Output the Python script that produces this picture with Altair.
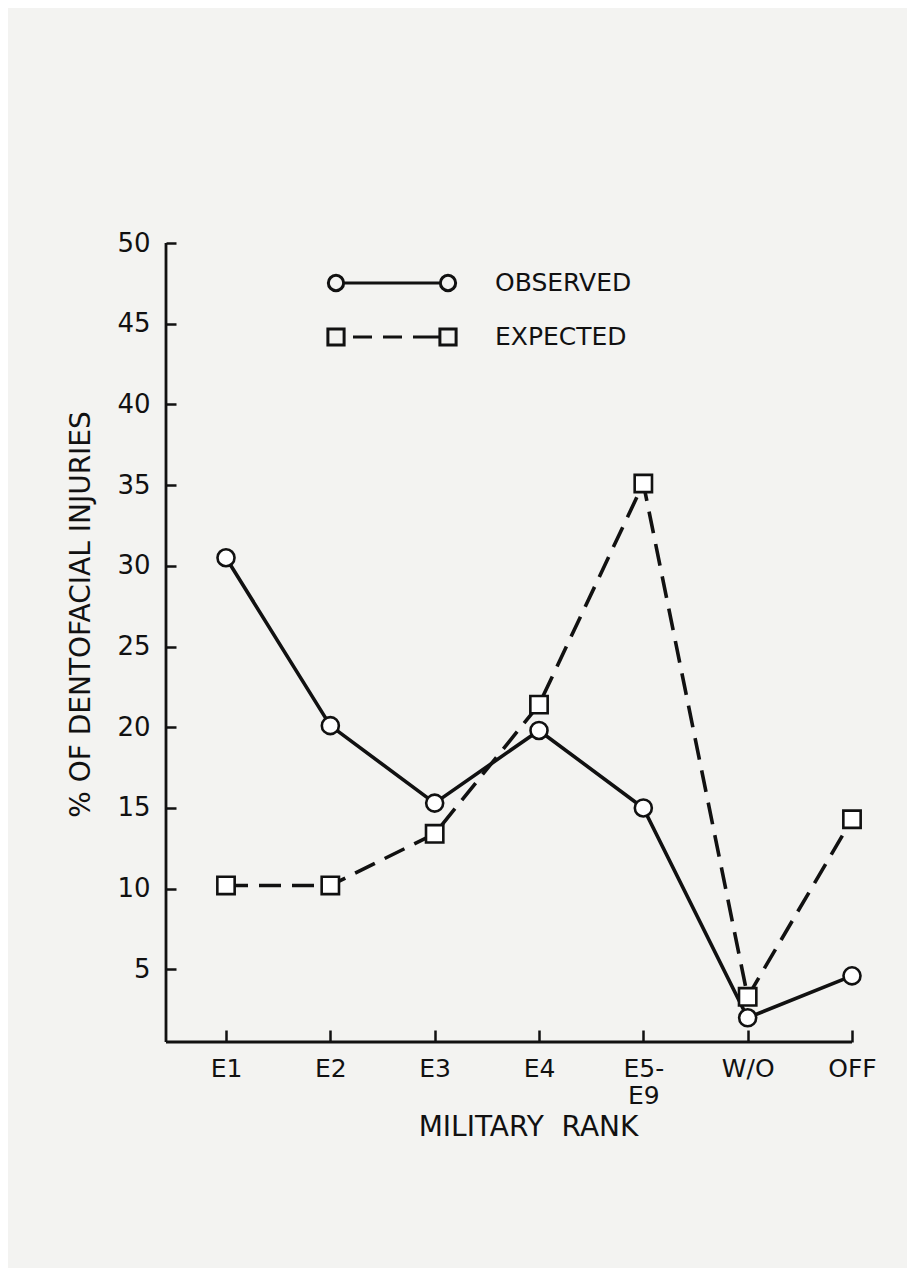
import altair as alt
import pandas as pd

# ---- data ----
ranks = ["E1", "E2", "E3", "E4", "E5-E9", "W/O", "OFF"]
observed = [30.5, 20.1, 15.3, 19.8, 15.0, 2.0, 4.6]
expected = [10.2, 10.2, 13.4, 21.4, 35.1, 3.3, 14.3]
series_names = ["OBSERVED", "EXPECTED"]
y_ticks = [5, 10, 15, 20, 25, 30, 35, 40, 45, 50]

rows = []
for r, o, e in zip(ranks, observed, expected):
    rows.append({"rank": r, "series": "OBSERVED", "pct": o})
    rows.append({"rank": r, "series": "EXPECTED", "pct": e})
df = pd.DataFrame(rows)

W, H = 686, 799
FONT = "DejaVu Sans"
INK = "#111111"
PAPER = "#f3f3f1"


# ---- legend symbols as custom paths (units of 9 px) ----
def circle_path(cx, r):
    k = 0.5523 * r
    return (f"M{cx + r:.3f},0 C{cx + r:.3f},{k:.3f} {cx + k:.3f},{r:.3f} {cx:.3f},{r:.3f} "
            f"C{cx - k:.3f},{r:.3f} {cx - r:.3f},{k:.3f} {cx - r:.3f},0 "
            f"C{cx - r:.3f},{-k:.3f} {cx - k:.3f},{-r:.3f} {cx:.3f},{-r:.3f} "
            f"C{cx + k:.3f},{-r:.3f} {cx + r:.3f},{-k:.3f} {cx + r:.3f},0 Z")


def square_path(cx, h):
    return (f"M{cx - h:.3f},{-h:.3f} L{cx + h:.3f},{-h:.3f} "
            f"L{cx + h:.3f},{h:.3f} L{cx - h:.3f},{h:.3f} Z")


c = 56 / 9.0
r = 0.85
obs_path = (circle_path(-c, r) + " " + circle_path(c, r) +
            f" M{-c + r:.3f},0 L{c - r:.3f},0")
hs = 0.9
dashes = [(-39, -20), (-9, 10), (21, 47)]
exp_path = square_path(-c, hs) + " " + square_path(c, hs)
for a, b in dashes:
    exp_path += f" M{a / 9.0:.3f},0 L{b / 9.0:.3f},0"

x_enc = alt.X(
    "rank:N",
    sort=ranks,
    scale=alt.Scale(type="point", range=[60, W], padding=0),
    axis=alt.Axis(
        title="MILITARY\u00a0\u00a0RANK",
        titleFont=FONT, titleFontSize=28, titleFontWeight="normal",
        titleColor=INK, titleX=362, titleY=83,
        labelFont=FONT, labelFontSize=25, labelColor=INK,
        labelAngle=0, labelPadding=14, labelLineHeight=27,
        labelExpr="datum.label == 'E5-E9' ? ['E5-', 'E9'] : datum.label",
        domain=False, grid=False, offset=-12, tickSize=12,
        tickColor=INK, tickWidth=2.5,
    ),
)
y_enc = alt.Y(
    "pct:Q",
    scale=alt.Scale(domain=[0.5, 50], nice=False, zero=False),
    axis=alt.Axis(
        title="% OF DENTOFACIAL INJURIES",
        titleFont=FONT, titleFontSize=28, titleFontWeight="normal",
        titleColor=INK, titleX=-81, titleY=371,
        values=y_ticks,
        labelFont=FONT, labelFontSize=26, labelColor=INK, labelPadding=16,
        domain=False, grid=False, offset=-10, tickSize=10,
        tickColor=INK, tickWidth=2.5,
    ),
)

base = alt.Chart(df)

obs_line = base.transform_filter(alt.datum.series == "OBSERVED").mark_line(
    color=INK, strokeWidth=3.6
).encode(x=x_enc, y=y_enc)

exp_line = base.transform_filter(alt.datum.series == "EXPECTED").mark_line(
    color=INK, strokeWidth=3.6, strokeDash=[22, 11]
).encode(x=x_enc, y=y_enc)

obs_pts = base.transform_filter(alt.datum.series == "OBSERVED").mark_point(
    shape="circle", size=290, filled=True, fill="white", stroke=INK,
    strokeWidth=2.6, opacity=1,
).encode(x=x_enc, y=y_enc)

exp_pts = base.transform_filter(alt.datum.series == "EXPECTED").mark_point(
    shape="square", size=300, filled=True, fill="white", stroke=INK,
    strokeWidth=2.6, opacity=1,
).encode(x=x_enc, y=y_enc)

# invisible layer whose only job is to carry the legend
legend_layer = base.transform_filter(alt.datum.rank == "E1").mark_point(
    filled=False, color=INK, strokeWidth=3, opacity=0,
).encode(
    shape=alt.Shape(
        "series:N",
        scale=alt.Scale(domain=series_names, range=[obs_path, exp_path]),
        legend=alt.Legend(
            title=None, orient="none", legendX=213.5, legendY=27.5,
            labelFont=FONT, labelFontSize=25, labelColor=INK,
            labelOffset=90.5, symbolSize=324, rowPadding=25, padding=0,
            symbolStrokeWidth=3, symbolStrokeColor=INK,
            symbolFillColor="white", symbolOpacity=1, labelLimit=300,
        ),
    )
)

frame = pd.DataFrame({"k": [0]})
y_line = alt.Chart(frame).mark_rule(color=INK, strokeWidth=2.8).encode(
    x=alt.value(0), y=alt.value(0), y2=alt.value(H)
)
x_line = alt.Chart(frame).mark_rule(color=INK, strokeWidth=2.8).encode(
    x=alt.value(0), x2=alt.value(W), y=alt.value(H)
)

chart = alt.layer(
    obs_line, exp_line, y_line, x_line, obs_pts, exp_pts, legend_layer
).properties(
    width=W,
    height=H,
    padding={"left": 158, "top": 235, "right": 55, "bottom": 226},
    autosize=alt.AutoSizeParams(type="none"),
    background=PAPER,
).configure_view(stroke=None)

chart.save("out.html", embed_options={"renderer": "svg", "actions": False})
